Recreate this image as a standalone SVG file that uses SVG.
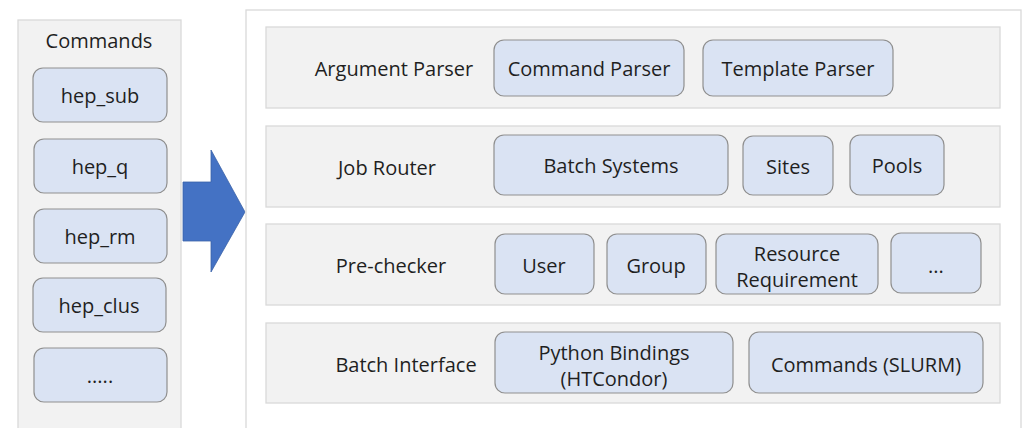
<svg xmlns="http://www.w3.org/2000/svg" width="1028" height="428" viewBox="0 0 1028 428">
<style>
  .panel{fill:#f2f2f2;stroke:#d9d9d9;stroke-width:1.3}
  .outer{fill:#ffffff;stroke:#d9d9d9;stroke-width:1.3}
  .row{fill:#f2f2f2;stroke:#d9d9d9;stroke-width:1.3}
  .box{fill:#dae3f3;stroke:#8f8f8f;stroke-width:1.2}
  text{font-family:"Open Sans","Liberation Sans",Arial,sans-serif;font-size:20px;fill:#1f1f1f;text-anchor:middle;dominant-baseline:central}
</style>
<rect width="1028" height="428" fill="#ffffff"/>
<g id="commands-panel">
  <rect class="panel" x="18" y="20" width="163" height="420"/>
  <text x="99" y="40">Commands</text>
</g>
<g id="hep_sub"><rect class="box" x="33" y="68" width="134" height="54" rx="10"/><text x="100" y="95">hep_sub</text></g>
<g id="hep_q"><rect class="box" x="34" y="139" width="133" height="54" rx="10"/><text x="100" y="166">hep_q</text></g>
<g id="hep_rm"><rect class="box" x="34" y="209" width="133" height="54" rx="10"/><text x="100" y="236">hep_rm</text></g>
<g id="hep_clus"><rect class="box" x="33" y="278" width="133" height="54" rx="10"/><text x="99" y="305">hep_clus</text></g>
<g id="more-commands"><rect class="box" x="34" y="348" width="133" height="54" rx="10"/><text x="100" y="375">.....</text></g>

<g id="connectors">
  <polygon points="183,182 211,182 211,150 245,212 211,272 211,241 183,241" fill="#4472c4" stroke="#3a62a8" stroke-width="0.8"/>
</g>

<g id="system-panel">
  <rect class="outer" x="246" y="10" width="775" height="430"/>
</g>

<g id="argument-parser">
  <rect class="row" x="266" y="27" width="734" height="81"/>
  <text x="394" y="68">Argument Parser</text>
</g>
<g id="command-parser"><rect class="box" x="494" y="40" width="190" height="56" rx="10"/><text x="589" y="68">Command Parser</text></g>
<g id="template-parser"><rect class="box" x="703" y="40" width="190" height="56" rx="10"/><text x="798" y="68">Template Parser</text></g>

<g id="job-router">
  <rect class="row" x="266" y="126" width="734" height="81"/>
  <text x="387" y="167">Job Router</text>
</g>
<g id="batch-systems"><rect class="box" x="494" y="135" width="234" height="60" rx="10"/><text x="611" y="165">Batch Systems</text></g>
<g id="sites"><rect class="box" x="743" y="136" width="90" height="59" rx="10"/><text x="788" y="166">Sites</text></g>
<g id="pools"><rect class="box" x="850" y="135" width="94" height="60" rx="10"/><text x="897" y="165">Pools</text></g>

<g id="pre-checker">
  <rect class="row" x="266" y="224" width="734" height="81"/>
  <text x="391" y="265">Pre-checker</text>
</g>
<g id="user"><rect class="box" x="495" y="234" width="99" height="60" rx="10"/><text x="544" y="265">User</text></g>
<g id="group"><rect class="box" x="607" y="234" width="99" height="60" rx="10"/><text x="656" y="265">Group</text></g>
<g id="resource-requirement"><rect class="box" x="716" y="234" width="162" height="60" rx="10"/><text x="797" y="253">Resource</text><text x="797" y="279">Requirement</text></g>
<g id="more-checks"><rect class="box" x="891" y="233" width="90" height="60" rx="10"/><text x="936" y="265">...</text></g>

<g id="batch-interface">
  <rect class="row" x="266" y="323" width="734" height="80"/>
  <text x="406" y="364">Batch Interface</text>
</g>
<g id="python-bindings"><rect class="box" x="495" y="332" width="238" height="61" rx="10"/><text x="614" y="352">Python Bindings</text><text x="614" y="378">(HTCondor)</text></g>
<g id="commands-slurm"><rect class="box" x="749" y="332" width="234" height="61" rx="10"/><text x="866" y="364">Commands (SLURM)</text></g>
</svg>
